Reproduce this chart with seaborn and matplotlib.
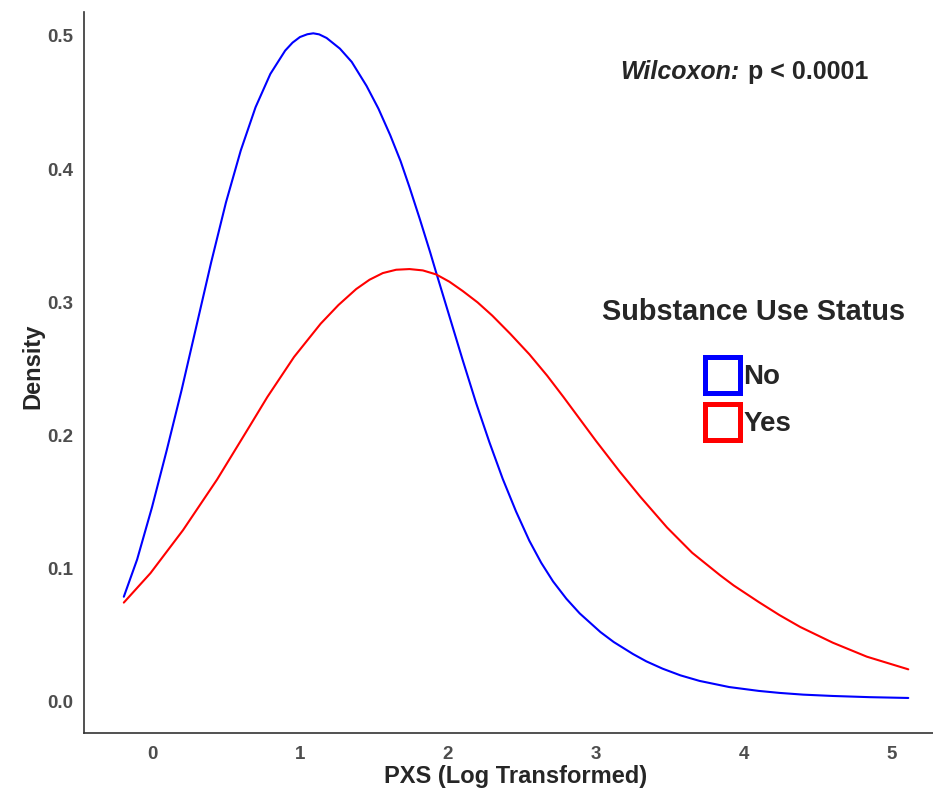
import numpy as np
import pandas as pd
import matplotlib
matplotlib.use("Agg")
import matplotlib.pyplot as plt
from matplotlib.patches import Patch
import seaborn as sns

# ---- data ----
no_x = [-0.19, -0.10, 0.00, 0.10, 0.20, 0.30, 0.40, 0.50, 0.60, 0.70, 0.80, 0.90, 0.95,
        1.00, 1.05, 1.09, 1.13, 1.18, 1.27, 1.35, 1.45, 1.53, 1.61, 1.68, 1.74, 1.81,
        1.88, 1.92, 2.01, 2.10, 2.19, 2.28, 2.37, 2.46, 2.55, 2.63, 2.71, 2.80, 2.89,
        3.03, 3.12, 3.25, 3.34, 3.45, 3.57, 3.70, 3.90, 4.10, 4.24, 4.40, 4.60, 4.85, 5.11]
no_d = [0.079, 0.107, 0.146, 0.189, 0.234, 0.282, 0.330, 0.375, 0.414, 0.4465, 0.4715, 0.489, 0.495,
        0.4992, 0.5013, 0.502, 0.5012, 0.4985, 0.4905, 0.4805, 0.4625, 0.4455, 0.4255, 0.406, 0.3865, 0.3625,
        0.3375, 0.3225, 0.2895, 0.2565, 0.2245, 0.1950, 0.1675, 0.1430, 0.1210, 0.1045, 0.0905, 0.0775, 0.0665,
        0.0525, 0.0450, 0.0360, 0.0305, 0.0250, 0.0200, 0.0158, 0.0112, 0.0083, 0.0068, 0.0055, 0.0045, 0.0036, 0.0030]

yes_x = [-0.19, -0.01, 0.21, 0.44, 0.66, 0.78, 0.96, 1.14, 1.26, 1.38, 1.47, 1.56, 1.65,
         1.74, 1.83, 1.92, 2.01, 2.10, 2.20, 2.30, 2.42, 2.55, 2.67, 2.78, 2.89, 3.00,
         3.16, 3.30, 3.48, 3.65, 3.84, 3.93, 4.10, 4.24, 4.38, 4.60, 4.83, 5.11]
yes_d = [0.0746, 0.0967, 0.129, 0.167, 0.207, 0.229, 0.259, 0.284, 0.298, 0.310, 0.317, 0.322, 0.3245,
         0.325, 0.324, 0.321, 0.3155, 0.3085, 0.300, 0.290, 0.2765, 0.261, 0.245, 0.229, 0.2125, 0.196,
         0.173, 0.154, 0.131, 0.112, 0.095, 0.0875, 0.075, 0.0652, 0.0563, 0.0445, 0.034, 0.0245]

groups = ["No", "Yes"]
colors = ["#0000FF", "#FF0000"]
legend_title = "Substance Use Status"
x_title = "PXS (Log Transformed)"
y_title = "Density"
x_ticks = [0, 1, 2, 3, 4, 5]
y_ticks = [0.0, 0.1, 0.2, 0.3, 0.4, 0.5]

df = pd.concat([
    pd.DataFrame({"x": no_x, "density": no_d, "status": groups[0]}),
    pd.DataFrame({"x": yes_x, "density": yes_d, "status": groups[1]}),
], ignore_index=True)

# ---- figure ----
sns.set_style("white")
plt.rcParams["font.family"] = ["Liberation Sans", "DejaVu Sans"]

W, H = 933, 789
fig = plt.figure(figsize=(W / 100, H / 100), dpi=100)
ax = fig.add_axes([84 / W, 1 - 733 / H, 1 - 84 / W, (733 - 12) / H])

sns.lineplot(data=df, x="x", y="density", hue="status", palette=dict(zip(groups, colors)),
             linewidth=1.5, legend=False, sort=True, ax=ax)

ax.set_xlim(-0.459, 5.277)
ax.set_ylim(-0.0233, 0.518)
ax.set_xticks(x_ticks)
ax.set_xticklabels([str(t) for t in x_ticks])
ax.set_yticks(y_ticks)
ax.set_yticklabels([f"{t:.1f}" for t in y_ticks])
ax.tick_params(axis="both", length=0, labelsize=13.5, labelcolor="#4D4D4D")
ax.tick_params(axis="x", pad=9.5)
ax.tick_params(axis="y", pad=7.5)
for lab in ax.get_xticklabels() + ax.get_yticklabels():
    lab.set_fontweight("bold")

for s in ["top", "right"]:
    ax.spines[s].set_visible(False)
for s in ["left", "bottom"]:
    ax.spines[s].set_color("#333333")
    ax.spines[s].set_linewidth(1.2)

ax.set_xlabel(x_title, fontsize=17, fontweight="bold", va="center")
ax.set_ylabel(y_title, fontsize=17, fontweight="bold", va="center")
ax.xaxis.set_label_coords((515.5 - 84) / 849, ((789 - 777) / H - (1 - 733 / H)) / ((733 - 12) / H))
ax.yaxis.set_label_coords((33 - 84) / 849, ((789 - 366.5) / H - (1 - 733 / H)) / ((733 - 12) / H))

# annotation
fig.text(620 / W, 1 - 72 / H, "Wilcoxon:", fontsize=18, fontweight="bold", fontstyle="italic",
         ha="left", va="center")
fig.text(748 / W, 1 - 72 / H, "p < 0.0001", fontsize=18, fontweight="bold", ha="left", va="center")

# legend
fig.text(753 / W, 1 - 312 / H, legend_title, fontsize=20.8, fontweight="bold", ha="center", va="center")
handles = [Patch(facecolor="white", edgecolor=c, linewidth=3.6, label=g) for g, c in zip(groups, colors)]
fig.legend(handles=handles, loc="upper left", bbox_to_anchor=(705 / W, 1 - 357 / H),
           frameon=False, prop={"weight": "bold", "size": 20},
           handlelength=1.27, handleheight=1.6, handletextpad=0.12, labelspacing=0.4,
           borderpad=0, borderaxespad=0)

fig.savefig("out.png", dpi=100)
